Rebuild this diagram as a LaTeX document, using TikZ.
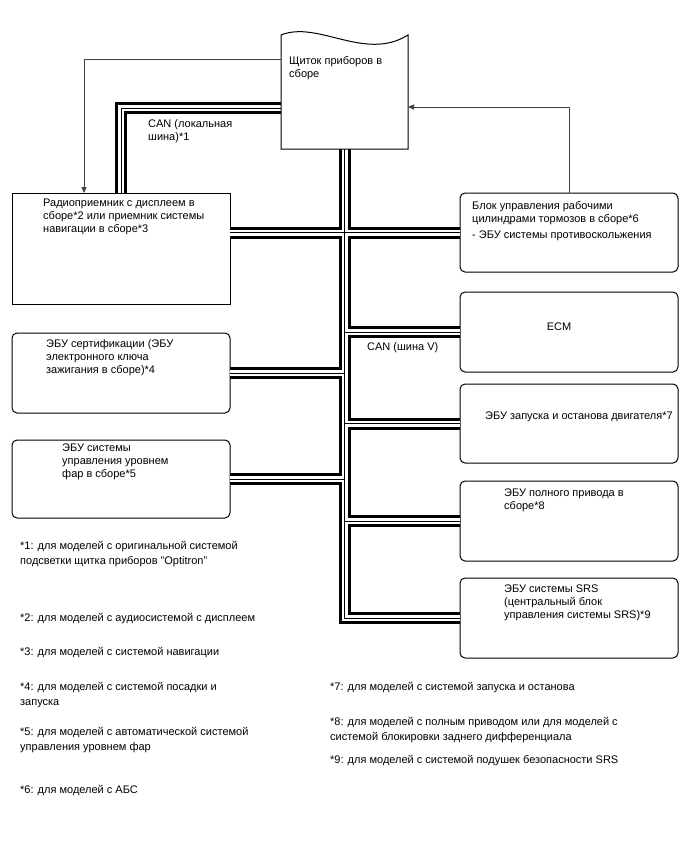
\documentclass[tikz,border=0pt]{standalone}
\usepackage{fontspec}
\setmainfont{Liberation Sans}
\usetikzlibrary{arrows.meta, positioning}

\begin{document}
\begin{tikzpicture}[
    x=1pt, y=-1pt,
    ecu/.style={
        rectangle, draw, line width=1pt, rounded corners=5pt,
        inner sep=0pt, outer sep=0pt,
        minimum width=218pt, minimum height=80pt
    },
    txt/.style={
        font=\fontsize{11}{13}\selectfont, align=left,
        inner sep=0pt, anchor=north west
    },
    note/.style={
        font=\fontsize{11}{15}\selectfont, align=left,
        inner sep=0pt, anchor=north west
    },
    busline/.style={line width=12pt, black, line join=miter},
    busgap/.style={line width=6pt, white, line join=miter},
    buscore/.style={line width=0.9pt, black, line join=miter},
    sig/.style={draw=black!75, line width=0.8pt, -{Triangle[length=6pt,width=5pt]}},
]
\useasboundingbox (0,0) rectangle (688,852);

% control units
\node[inner sep=0pt, outer sep=0pt, minimum width=127pt, minimum height=114pt] (cluster) at (344.5,92) {};
\node[ecu, sharp corners, minimum height=111pt] (radio) at (121,248.5) {};
\node[ecu, minimum height=79pt] (abs) at (569,232.5) {};
\node[ecu] (cert) at (121,373) {};
\node[ecu, minimum height=78pt] (hlev) at (121,479) {};
\node[ecu] (ecm) at (569,332) {};
\node[ecu, minimum height=79pt] (eng) at (569,423.5) {};
\node[ecu] (awd) at (569,521) {};
\node[ecu] (srs) at (569,618) {};

% CAN buses
\foreach \pen in {busline, busgap, buscore} {
  \draw[\pen] ([yshift=-16pt]cluster.west) -| ([xshift=109pt]radio.north west);
  \draw[\pen] (cluster.south) |- (srs.west);
  \draw[\pen] (radio.east |- abs.west) -- (abs.west);
  \draw[\pen] (cert.east) -- (cluster.south |- cert.east);
  \draw[\pen] (hlev.east) -- (cluster.south |- hlev.east);
  \draw[\pen] (cluster.south |- ecm.west) -- (ecm.west);
  \draw[\pen] (cluster.south |- eng.west) -- (eng.west);
  \draw[\pen] (cluster.south |- awd.west) -- (awd.west);
}

% combination meter outline
\draw[line width=1pt] (cluster.south west) -- (cluster.north west)
  .. controls ([xshift=37pt,yshift=15pt]cluster.north west)
  and ([xshift=-43pt,yshift=-27pt]cluster.north east) .. (cluster.north east)
  -- (cluster.south east) -- cycle;

% direct lines
\draw[sig] ([yshift=33pt]cluster.west) -| ([xshift=72pt]radio.north west);
\draw[sig] (abs.north) |- ([yshift=-15pt]cluster.east);

% texts
\node[txt, below right=21pt and 8pt of cluster.north west] (clustertxt)
  {Щиток приборов в\\сборе};
\node[txt, below right=6pt and 31pt of radio.north west] (radiotxt)
  {Радиоприемник с дисплеем в\\сборе*2 или приемник системы\\навигации в сборе*3};
\node[txt, below right=8pt and 12pt of abs.north west] (abstxt)
  {Блок управления рабочими\\цилиндрами тормозов в сборе*6\\[3pt]- ЭБУ системы противоскольжения};
\node[txt, below right=6pt and 34pt of cert.north west] (certtxt)
  {ЭБУ сертификации (ЭБУ\\электронного ключа\\зажигания в сборе)*4};
\node[txt, below right=4pt and 50pt of hlev.north west] (hlevtxt)
  {ЭБУ системы\\управления уровнем\\фар в сборе*5};
\node[txt, anchor=center] (ecmtxt) at ([xshift=-10pt,yshift=5pt]ecm.center) {ECM};
\node[txt, anchor=west] (engtxt) at ([xshift=25pt,yshift=6.5pt]eng.west)
  {ЭБУ запуска и останова двигателя*7};
\node[txt, below right=8pt and 44pt of awd.north west] (awdtxt)
  {ЭБУ полного привода в\\сборе*8};
\node[txt, below right=7pt and 44pt of srs.north west] (srstxt)
  {ЭБУ системы SRS\\(центральный блок\\управления системы SRS)*9};

\node[txt] (canloc) at (148,119) {CAN (локальная\\шина)*1};
\node[txt, anchor=west] (canv) at (367,348) {CAN (шина V)};

% footnotes
\node[note] (fn1) at (20,541) {*1: для моделей с оригинальной системой\\подсветки щитка приборов "Optitron"};
\node[note] (fn2) at (20,613) {*2: для моделей с аудиосистемой с дисплеем};
\node[note] (fn3) at (20,647) {*3: для моделей с системой навигации};
\node[note] (fn4) at (20,682) {*4: для моделей с системой посадки и\\запуска};
\node[note] (fn5) at (20,727) {*5: для моделей с автоматической системой\\управления уровнем фар};
\node[note] (fn6) at (20,785) {*6: для моделей с АБС};
\node[note] (fn7) at (330,682) {*7: для моделей с системой запуска и останова};
\node[note] (fn8) at (330,717) {*8: для моделей с полным приводом или для моделей с\\системой блокировки заднего дифференциала};
\node[note] (fn9) at (330,755) {*9: для моделей с системой подушек безопасности SRS};
\end{tikzpicture}
\end{document}
